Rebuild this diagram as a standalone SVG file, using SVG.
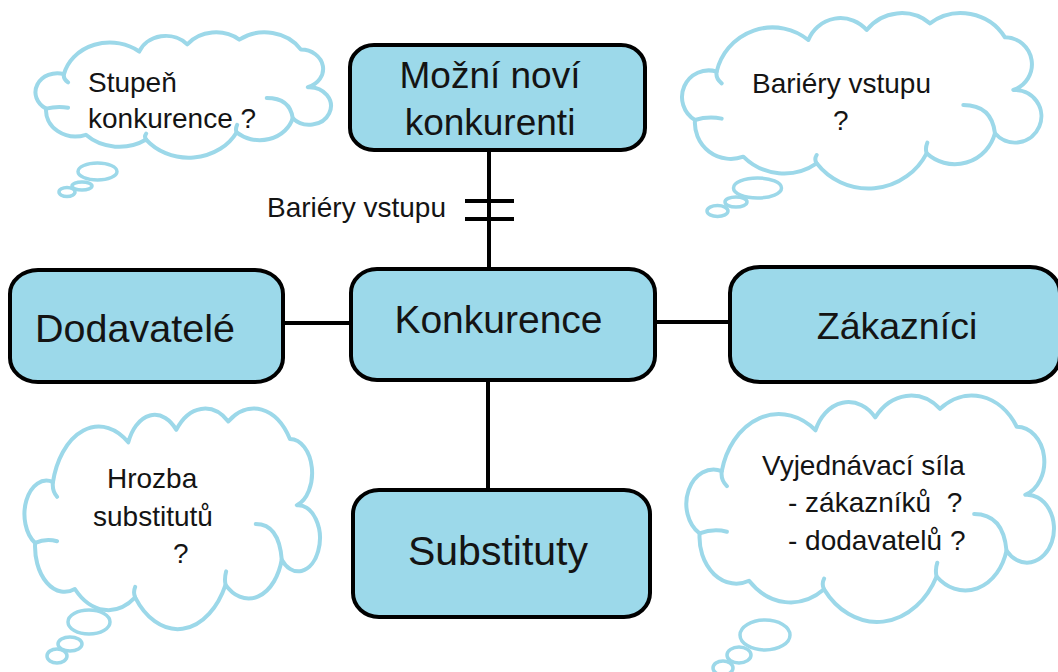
<svg xmlns="http://www.w3.org/2000/svg" xmlns:xlink="http://www.w3.org/1999/xlink" width="1058" height="672" viewBox="0 0 1058 672">
<style>
.cloud{fill:#ffffff;stroke:#9CD8E9;stroke-width:4;vector-effect:non-scaling-stroke;stroke-linejoin:round}
.tick{fill:none;stroke:#9CD8E9;stroke-width:4;vector-effect:non-scaling-stroke;stroke-linecap:round}
.bub{fill:#ffffff;stroke:#9CD8E9;stroke-width:3.5}
.box{fill:#9CD9EA;stroke:#000;stroke-width:4}
.ct{font-family:"Liberation Sans",Arial,sans-serif;font-size:28px;fill:#141414;white-space:pre}
.bt{font-family:"Liberation Sans",Arial,sans-serif;font-size:38px;fill:#141414;text-anchor:middle}
.conn line{stroke:#000;stroke-width:4}
</style>
<defs>
<path id="cloudShape" class="cloud" d="M110,215 A172,172 0 0 1 385,120 A104,104 0 0 1 560,90 A134,134 0 0 1 750,70 A156,156 0 0 1 975,112 A81,81 0 0 1 1000,270 A79,79 0 1 1 945,400 A125,125 0 0 1 740,460 A197,197 0 0 1 410,490 A173,173 0 0 1 190,470 A108,108 0 0 1 45,360 A80,80 0 0 1 110,215 Z"/>
<path id="cloudTicks" class="tick" d="M125,250 Q106,235 110,215 M850,315 Q935,315 945,400 M740,460 Q735,445 742,428 M410,490 Q402,478 410,465 M45,360 Q85,348 125,356"/>
</defs>

<g id="cloud-stupen">
<g transform="translate(36,32) scale(0.274,0.238) translate(-8,-38)"><use xlink:href="#cloudShape"/><use xlink:href="#cloudTicks"/></g>
<ellipse class="bub" cx="97.5" cy="171.5" rx="19.5" ry="8.5"/>
<ellipse class="bub" cx="82" cy="186" rx="10" ry="4"/>
<ellipse class="bub" cx="67" cy="192" rx="8" ry="4.5"/>
<text class="ct" x="88" y="92">Stupeň</text>
<text class="ct" x="88" y="128">konkurence ?</text>
</g>

<g id="cloud-bariery">
<g transform="translate(680,0) scale(0.3333)"><use xlink:href="#cloudShape"/><use xlink:href="#cloudTicks"/></g>
<ellipse class="bub" cx="757.5" cy="188" rx="24" ry="10"/>
<ellipse class="bub" cx="736" cy="202" rx="11" ry="5"/>
<ellipse class="bub" cx="717.5" cy="211" rx="10.5" ry="5.5"/>
<text class="ct" x="752" y="93">Bariéry vstupu</text>
<text class="ct" x="833" y="130">?</text>
</g>

<g id="cloud-hrozba">
<g transform="translate(25,408) scale(0.274,0.419) translate(-8,-38)"><use xlink:href="#cloudShape"/><use xlink:href="#cloudTicks"/></g>
<ellipse class="bub" cx="89" cy="622" rx="21" ry="12"/>
<ellipse class="bub" cx="70" cy="644" rx="12" ry="7"/>
<ellipse class="bub" cx="57" cy="656" rx="10" ry="7"/>
<text class="ct" x="107" y="488">Hrozba</text>
<text class="ct" x="93" y="526">substitutů</text>
<text class="ct" x="173" y="563">?</text>
</g>

<g id="cloud-vyjednavaci">
<g transform="translate(687,395) scale(0.341,0.430) translate(-8,-38)"><use xlink:href="#cloudShape"/><use xlink:href="#cloudTicks"/></g>
<ellipse class="bub" cx="765" cy="635" rx="25" ry="15"/>
<ellipse class="bub" cx="739" cy="655" rx="12" ry="8"/>
<ellipse class="bub" cx="723" cy="668" rx="10" ry="7"/>
<text class="ct" x="762" y="475">Vyjednávací síla</text>
<text class="ct" x="788" y="512">- zákazníků  ?</text>
<text class="ct" x="788" y="550">- dodavatelů ?</text>
</g>

<g id="connectors" class="conn">
<line x1="489" y1="150" x2="489" y2="269"/>
<line x1="465" y1="201" x2="514" y2="201"/>
<line x1="465" y1="219" x2="514" y2="219"/>
<line x1="283" y1="323" x2="351" y2="323"/>
<line x1="655" y1="322" x2="730" y2="322"/>
<line x1="488" y1="380" x2="488" y2="490"/>
<text class="ct" x="267" y="217">Bariéry vstupu</text>
</g>

<g id="node-mozni">
<rect class="box" x="350" y="45" width="295" height="105" rx="24" ry="22"/>
<text class="bt" x="490" y="88" style="font-size:37px">Možní noví</text>
<text class="bt" x="490" y="135" style="font-size:37px">konkurenti</text>
</g>

<g id="node-konkurence">
<rect class="box" x="351" y="269" width="304" height="111" rx="26" ry="24"/>
<text class="bt" x="498.5" y="333" style="font-size:39px">Konkurence</text>
</g>

<g id="node-dodavatele">
<rect class="box" x="10" y="270" width="273" height="112" rx="28" ry="24"/>
<text class="bt" x="135" y="342" style="font-size:39.5px">Dodavatelé</text>
</g>

<g id="node-zakaznici">
<rect class="box" x="730" y="267" width="330" height="115" rx="30" ry="26"/>
<text class="bt" x="897" y="339" style="font-size:37.5px">Zákazníci</text>
</g>

<g id="node-substituty">
<rect class="box" x="353" y="490" width="297" height="127" rx="26" ry="24"/>
<text class="bt" x="498" y="565" style="font-size:41px">Substituty</text>
</g>
</svg>
